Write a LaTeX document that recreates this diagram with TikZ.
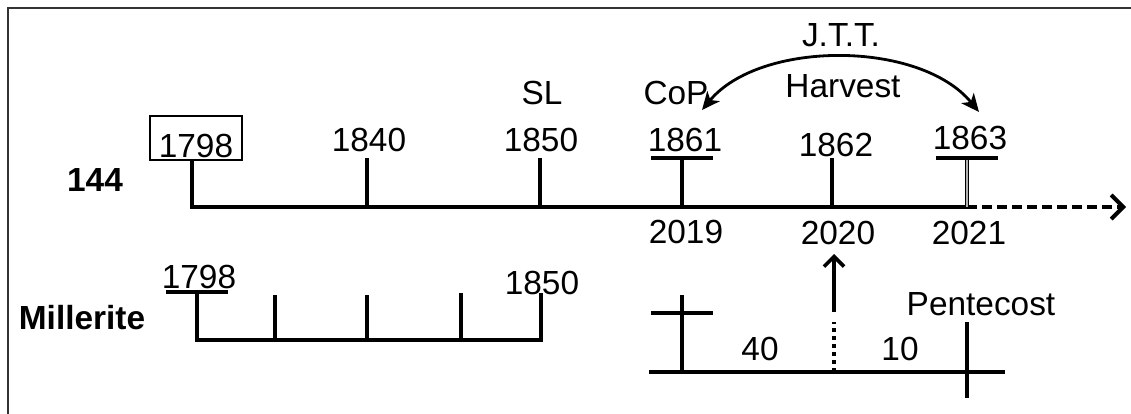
\documentclass[tikz,border=0pt]{standalone}
\usepackage{fontspec}
\setmainfont{Liberation Sans}
\usetikzlibrary{arrows.meta}

\def\yeartick#1#2#3#4{%
  \coordinate (#1t) at (#2,#3);
  \coordinate (#1b) at (#2,#4);
  \draw[thickline] (#1t) -- (#1b);
}
\def\yearbar#1#2{%
  \draw[thickline] (#1t)+(-#2,0) -- +(#2,0);
}

\begin{document}
\begin{tikzpicture}[x=0.5pt,y=-0.5pt,
  thickline/.style={line width=2pt},
  every node/.style={font=\fontsize{16.7}{20}\selectfont,inner sep=0pt}]
\useasboundingbox (0,0) rectangle (1131,413);
\draw[line width=0.8pt,black!80] (8,430) -- (8,8) -- (1150,8);

% 144 row
\draw (95,180) node (n144) {\bfseries 144};
\draw (196,157) node[anchor=base,draw,line width=1pt,inner xsep=4.5pt,
  text height=20.5pt,text depth=1.5pt] (a1798) {1798};
\coordinate (a1798t) at (192,160);
\coordinate (a1798b) at (192,207);
\coordinate (a1863t) at (967,158);
\coordinate (a1863b) at (967,207);
\coordinate (aend) at (1126,207);
\draw[thickline] (a1798t) -- (a1798b) -- (a1863b);
\draw[thickline,dash pattern=on 5pt off 2.5pt,
  -{Straight Barb[length=6pt,width=12pt]}] (a1863b) -- (aend);
\yeartick{a1840}{367}{158}{207}
\yeartick{a1850}{540}{158}{207}
\yeartick{a1861}{682}{158}{207}
\yeartick{a1862}{832}{158}{207}
\draw[line width=0.5pt,double=gray!60,double distance=1pt] (a1863t) -- (a1863b);
\yearbar{a1861}{31}
\yearbar{a1863}{31}
\draw (369,140) node (l1840) {1840};
\draw (541,140) node (l1850) {1850};
\draw (542,93) node (sl) {SL};
\draw (676,93) node (cop) {CoP};
\draw (685,140) node (l1861) {1861};
\draw (836,145) node (l1862) {1862};
\draw (970,138) node (l1863) {1863};
\draw (686,232) node (l2019) {2019};
\draw (838,233) node (l2020) {2020};
\draw (969,233) node (l2021) {2021};
\draw (841,35) node (jtt) {J.T.T.};
\draw (843,86) node (harvest) {Harvest};
\coordinate (arcl) at (702,110);
\coordinate (arcr) at (979,112);
\draw[line width=1.4pt,{Stealth[length=9pt,width=8pt,inset=2.5pt]}-{Stealth[length=9pt,width=8pt,inset=2.5pt]}]
  (arcl) .. controls (760,40) and (920,40) .. (arcr);

% Millerite row
\draw (82,318) node (mil) {\bfseries Millerite};
\draw (199,277) node (m1798) {1798};
\draw (542,283) node (m1850) {1850};
\coordinate (m1t) at (197,292);
\coordinate (m1b) at (197,340);
\coordinate (m5t) at (541,293);
\coordinate (m5b) at (541,340);
\draw[thickline] (m1t) -- (m1b) -- (m5b) -- (m5t);
\yeartick{m2}{275}{295}{340}
\yeartick{m3}{367}{295}{340}
\yeartick{m4}{461}{293}{340}
\yearbar{m1}{31}

% 40 + 10
\coordinate (bl) at (649,372);
\coordinate (br) at (1005,372);
\draw[thickline] (bl) -- (br);
\yeartick{crs}{682}{295}{372}
\coordinate (crsmt) at (682,313);
\yearbar{crsm}{31}
\yeartick{pent}{967}{322}{398}
\draw (981,304) node (pentecost) {Pentecost};
\draw (760,349) node (n40) {40};
\draw (900,349) node (n10) {10};
\coordinate (dtop) at (834,322);
\coordinate (dbot) at (834,372);
\draw[thickline,dash pattern=on 2pt off 2pt] (dbot) -- (dtop);
\coordinate (up) at (834,312);
\coordinate (uptip) at (834,254);
\draw[line width=1.8pt,-{Straight Barb[length=5pt,width=10pt]}] (up) -- (uptip);
\end{tikzpicture}
\end{document}
